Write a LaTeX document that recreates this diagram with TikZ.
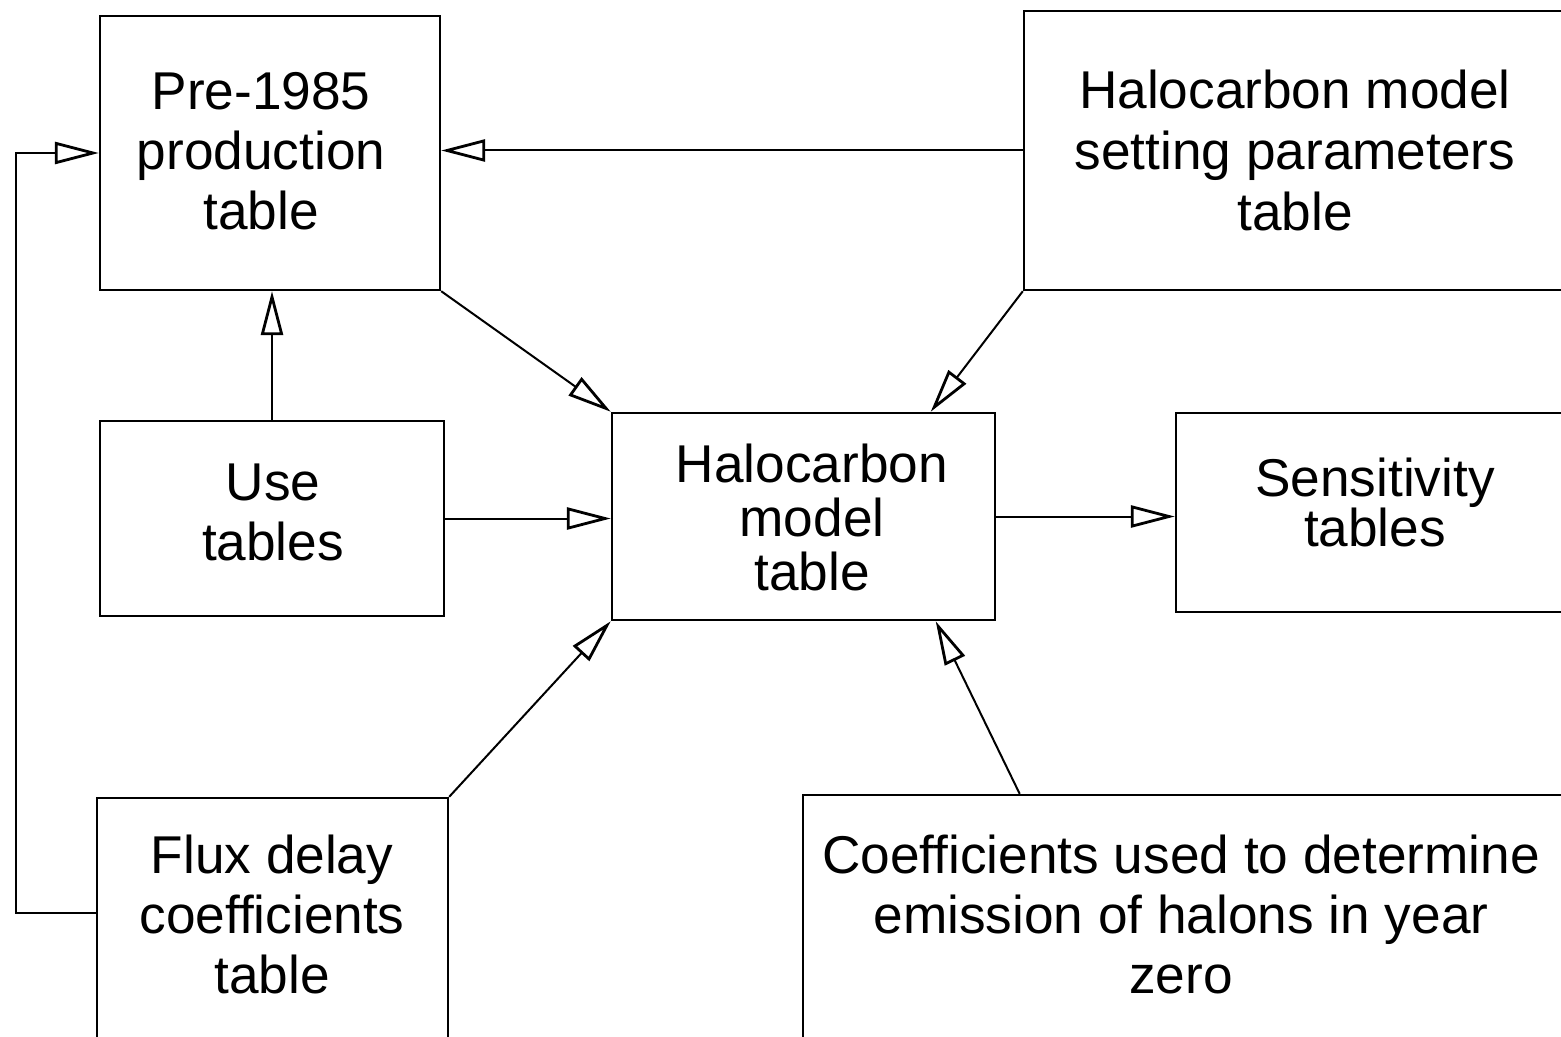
\documentclass[tikz,border=0pt]{standalone}
\usepackage{fontspec}
\setmainfont{Liberation Sans}
\usetikzlibrary{arrows.meta,calc}
\begin{document}
\begin{tikzpicture}[x=0.5pt,y=-0.5pt,
  box/.style={draw,line width=1.2pt,rectangle,inner sep=0pt,align=center,
    font=\fontsize{26.6pt}{30.5pt}\selectfont},
  txt/.style={align=center,inner sep=0pt,font=\fontsize{26.6pt}{30pt}\selectfont},
  conn/.style={line width=1pt,-{Triangle[open,length=22pt,width=11pt,line width=1.4pt]}}]
\clip (0,0) rectangle (1561,1037);
\node[box,minimum width=170pt,minimum height=137pt] (pre) at (270,153) {};
\node[txt] (pret) at (261,151) {Pre-1985\\production\\table};
\node[box,minimum width=271pt,minimum height=139.5pt] (set) at (1295,150.5) {Halocarbon model\\setting parameters\\table};
\node[box,minimum width=172pt,minimum height=97.5pt] (use) at (272,518.5) {};
\node[txt] (uset) at (273,512) {Use\\tables};
\node[box,minimum width=191.5pt,minimum height=103.5pt] (model) at (803.5,516.5) {};
\node[txt,font=\fontsize{26.6pt}{27pt}\selectfont] (modelt) at (812,517) {Halocarbon\\model\\table};
\node[box,minimum width=199pt,minimum height=99.5pt] (sens) at (1375,512.5) {};
\node[txt,font=\fontsize{26.6pt}{25pt}\selectfont] (senst) at (1375,502) {Sensitivity\\tables};
\node[box,minimum width=175.5pt,minimum height=151pt] (flux) at (272.5,949) {};
\node[txt] (fluxt) at (272,914) {Flux delay\\coefficients\\table};
\node[box,minimum width=381pt,minimum height=152.5pt] (coef) at (1184,947.5) {};
\node[txt] (coeft) at (1181,914) {Coefficients used to determine\\emission of halons in year\\zero};
\coordinate (fluxl) at ($(flux.north west)+(0,116)$);
\draw[conn] (set.west) -- (set.west -| pre.east);
\draw[conn] (pre.south east) -- (model.north west);
\draw[conn] (set.south west) -- ($(model.north west)!0.83!(model.north east)$);
\draw[conn] (use.north) -- (use.north |- pre.south);
\draw[conn] (use.east) -- (use.east -| model.west);
\draw[conn] (model.east) -- (model.east -| sens.west);
\draw[conn] (flux.north east) -- (model.south west);
\draw[conn] ($(coef.north west)!0.285!(coef.north east)$) -- ($(model.south west)!0.843!(model.south east)$);
\draw[conn] (fluxl) -- ++(-80,0) |- (pre.west);
\end{tikzpicture}
\end{document}
